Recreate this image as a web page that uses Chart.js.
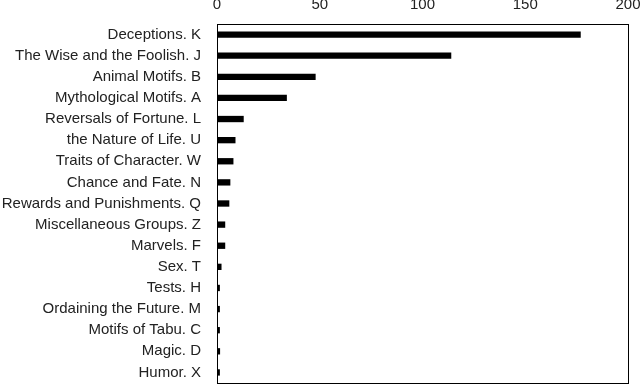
<!DOCTYPE html>
<html>
<head>
<meta charset="utf-8">
<script src="https://cdn.jsdelivr.net/npm/chart.js@4/dist/chart.umd.min.js"></script>
<style>
  html, body { margin: 0; padding: 0; background: #fff; overflow: hidden; }
  canvas { display: block; }
</style>
</head>
<body>
<canvas id="motifChart" width="640" height="386"></canvas>
<script>
const categories = [
  "Deceptions. K", "The Wise and the Foolish. J", "Animal Motifs. B", "Mythological Motifs. A",
  "Reversals of Fortune. L", "the Nature of Life. U", "Traits of Character. W", "Chance and Fate. N",
  "Rewards and Punishments. Q", "Miscellaneous Groups. Z", "Marvels. F", "Sex. T", "Tests. H",
  "Ordaining the Future. M", "Motifs of Tabu. C", "Magic. D", "Humor. X"
];
const counts = [177, 114, 48, 34, 13, 9, 8, 6.5, 6, 4, 4, 2.2, 1.4, 1.4, 1.4, 1.5, 1.4];
const xTicks = [0, 50, 100, 150, 200];

const fontFace = "'Liberation Sans', Arial, Helvetica, sans-serif";

// box around the plot area
const frame = {
  id: "frame",
  afterDraw(chart) {
    const { ctx, chartArea: a } = chart;
    ctx.save();
    ctx.strokeStyle = "#000";
    ctx.lineWidth = 1;
    ctx.strokeRect(Math.round(a.left) + 0.5, Math.round(a.top) + 0.5,
      Math.round(a.right - a.left), Math.round(a.bottom - a.top));
    ctx.restore();
  }
};

// fixed axis sizes, no extra label overhang padding
function fixSize(s, w, h) {
  if (w) s.width = w;
  if (h) s.height = h;
  s.paddingLeft = s.paddingRight = s.paddingTop = s.paddingBottom = 0;
}

new Chart(document.getElementById("motifChart"), {
  type: "bar",
  data: {
    labels: categories,
    datasets: [{ data: counts, backgroundColor: "#000", barPercentage: 0.3, categoryPercentage: 1 }]
  },
  options: {
    indexAxis: "y",
    responsive: false,
    animation: false,
    layout: { padding: { top: 0, right: 12, bottom: 3, left: 0 } },
    plugins: { legend: { display: false }, tooltip: { enabled: false } },
    scales: {
      x: {
        position: "top",
        min: 0,
        max: 200,
        afterFit(s) { fixSize(s, 0, 24); },
        afterBuildTicks(s) { s.ticks = xTicks.map(v => ({ value: v })); },
        grid: { display: false, drawTicks: false },
        border: { display: true, color: "#000" },
        ticks: { color: "#222", padding: 10, maxRotation: 0, font: { family: fontFace, size: 15 } }
      },
      y: {
        afterFit(s) { fixSize(s, 217, 0); },
        grid: { display: false, drawTicks: false },
        border: { display: true, color: "#000" },
        ticks: { color: "#222", padding: 16, autoSkip: false, font: { family: fontFace, size: 15 } }
      }
    }
  },
  plugins: [frame]
});
</script>
</body>
</html>
